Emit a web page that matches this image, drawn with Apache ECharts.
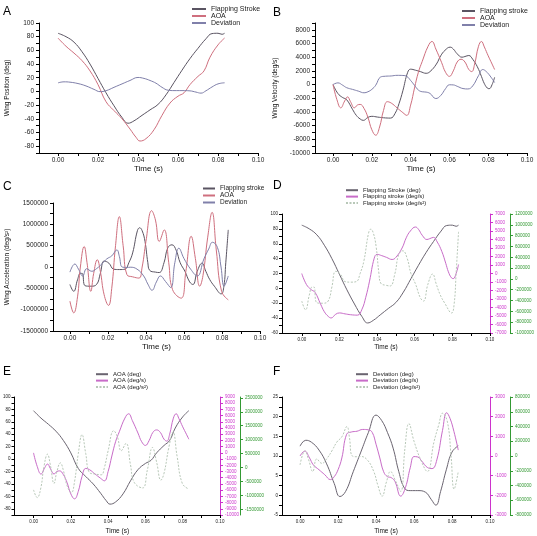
<!DOCTYPE html>
<html>
<head>
<meta charset="utf-8">
<script src="https://cdn.jsdelivr.net/npm/echarts@6/dist/echarts.min.js"></script>
<style>
  html, body { margin: 0; padding: 0; background: #fff; }
  #chart { width: 537px; height: 536px; }
</style>
</head>
<body>
<div id="chart"></div>
<script>
// ticks of the time axis (same in all six panels)
var timeLabels = [0, 0.02, 0.04, 0.06, 0.08, 0.1];
var timeTicks = [0, 0.01, 0.02, 0.03, 0.04, 0.05, 0.06, 0.07, 0.08, 0.09, 0.1];

// y ticks, panels A-C
var posLabels = [-80, -60, -40, -20, 0, 20, 40, 60, 80, 100];
var posTicks = [-90, -80, -70, -60, -50, -40, -30, -20, -10, 0, 10, 20, 30, 40, 50, 60, 70, 80, 90, 100];
var velLabels = [-10000, -8000, -6000, -4000, -2000, 0, 2000, 4000, 6000, 8000];
var velTicks = [-10000, -9000, -8000, -7000, -6000, -5000, -4000, -3000, -2000, -1000, 0, 1000, 2000, 3000, 4000, 5000, 6000, 7000, 8000, 9000];
var accLabels = [-1500000, -1000000, -500000, 0, 500000, 1000000, 1500000];
var accTicks = [-1500000, -1250000, -1000000, -750000, -500000, -250000, 0, 250000, 500000, 750000, 1000000, 1250000, 1500000];

// y ticks, panels D-F
var dLeftLabels = [-60, -40, -20, 0, 20, 40, 60, 80, 100];
var dLeftTicks = [-60, -50, -40, -30, -20, -10, 0, 10, 20, 30, 40, 50, 60, 70, 80, 90, 100];
var dVelLabels = [-7000, -6000, -5000, -4000, -3000, -2000, -1000, 0, 1000, 2000, 3000, 4000, 5000, 6000, 7000];
var dAccLabels = [-1000000, -800000, -600000, -400000, -200000, 0, 200000, 400000, 600000, 800000, 1000000, 1200000];
var eVelLabels = [-10000, -9000, -8000, -7000, -6000, -5000, -4000, -3000, -2000, -1000, 0, 1000, 2000, 3000, 4000, 5000, 6000, 7000, 8000, 9000];
var eAccLabels = [-1500000, -1000000, -500000, 0, 500000, 1000000, 1500000, 2000000, 2500000];
var fLeftLabels = [-5, 0, 5, 10, 15, 20, 25];
var fLeftTicks = [-5, -2.5, 0, 2.5, 5, 7.5, 10, 12.5, 15, 17.5, 20, 22.5, 25];
var fVelLabels = [-3000, -2000, -1000, 0, 1000, 2000, 3000];
var fAccLabels = [-800000, -600000, -400000, -200000, 0, 200000, 400000, 600000, 800000];

// wing position (deg), [time s, value]
var strokePos = [[0,85],[0.004,80],[0.008,72],[0.012,58],[0.016,40],[0.020,19],[0.024,-2],[0.028,-21],[0.032,-38],[0.035,-46.5],[0.038,-43],[0.042,-35],[0.046,-27],[0.050,-19],[0.054,-5],[0.058,13],[0.062,31],[0.066,48],[0.070,63],[0.074,77],[0.077,84.5],[0.080,85],[0.082,83.5],[0.0833,85]];
var aoaPos = [[0,78],[0.004,66],[0.008,56],[0.012,45],[0.016,30],[0.020,10],[0.024,-15],[0.028,-28],[0.032,-40],[0.036,-55],[0.039,-67],[0.041,-72.5],[0.044,-69],[0.048,-56],[0.052,-35],[0.056,-17],[0.060,-7],[0.063,-2],[0.066,10],[0.070,22],[0.073,30],[0.076,50],[0.080,68],[0.0833,78]];
var devPos = [[0,12.5],[0.003,14],[0.006,13.5],[0.010,11.5],[0.014,8],[0.018,3],[0.021,-0.3],[0.024,1],[0.028,6],[0.032,11],[0.036,16],[0.040,20.4],[0.043,19],[0.046,16],[0.049,12],[0.052,6],[0.055,1.8],[0.058,1.2],[0.062,1.2],[0.066,0.8],[0.069,-1],[0.0715,-2.5],[0.074,1],[0.077,6.5],[0.080,11],[0.0833,12.6]];

// wing velocity (deg/s)
var strokeVel = [[0,0],[0.0025,-1300],[0.005,-1900],[0.007,-2200],[0.010,-3600],[0.012,-4500],[0.014,-5030],[0.0156,-5230],[0.018,-4800],[0.020,-4640],[0.023,-4750],[0.026,-4850],[0.0296,-4900],[0.032,-4200],[0.034,-2800],[0.036,-900],[0.0385,1800],[0.040,2250],[0.0425,2100],[0.045,1900],[0.048,1650],[0.050,1900],[0.0533,3000],[0.0555,4200],[0.0577,5000],[0.0604,5470],[0.062,5200],[0.064,4500],[0.0665,4000],[0.068,4100],[0.070,4250],[0.072,3700],[0.0744,2600],[0.0765,1200],[0.0779,200],[0.0795,-500],[0.0805,-600],[0.082,0],[0.0833,1060]];
var aoaVel = [[0,0],[0.002,-2200],[0.004,-3400],[0.006,-2400],[0.0075,-1800],[0.009,-2500],[0.011,-3400],[0.0125,-3000],[0.014,-2900],[0.016,-3500],[0.018,-4800],[0.020,-6600],[0.022,-7400],[0.024,-6200],[0.026,-3800],[0.028,-2500],[0.030,-2700],[0.033,-3400],[0.036,-4100],[0.038,-4500],[0.040,-3000],[0.042,-500],[0.044,1800],[0.046,3400],[0.049,5600],[0.051,6300],[0.053,5200],[0.056,3200],[0.058,1800],[0.060,1200],[0.062,2000],[0.064,3300],[0.066,3700],[0.068,3300],[0.070,2200],[0.0715,1900],[0.073,3000],[0.075,5600],[0.0765,6300],[0.078,5500],[0.080,4200],[0.082,3000],[0.0833,2200]];
var devVel = [[0,0],[0.0025,250],[0.005,-100],[0.007,-450],[0.010,-700],[0.013,-950],[0.016,-1200],[0.018,-1050],[0.020,-700],[0.022,-100],[0.0245,1100],[0.027,1220],[0.030,1260],[0.033,1350],[0.036,1330],[0.038,1200],[0.040,600],[0.042,-100],[0.044,-800],[0.046,-1050],[0.048,-1100],[0.050,-1300],[0.053,-2040],[0.0555,-1600],[0.058,-600],[0.060,-30],[0.062,-50],[0.064,-250],[0.067,-580],[0.0695,-640],[0.072,-200],[0.075,1300],[0.0772,2200],[0.079,1900],[0.081,1250],[0.0833,300]];

// wing acceleration (deg/s^2)
var strokeAcc = [[0,-410000],[0.002,-570000],[0.004,-300000],[0.0055,-150000],[0.0065,-150000],[0.008,-440000],[0.011,-450000],[0.014,-410000],[0.016,-150000],[0.018,140000],[0.0205,90000],[0.023,-50000],[0.026,-60000],[0.029,-50000],[0.031,100000],[0.033,330000],[0.0355,850000],[0.0367,920000],[0.038,850000],[0.0395,600000],[0.041,100000],[0.042,-80000],[0.045,-120000],[0.047,-130000],[0.0495,100000],[0.0515,450000],[0.0537,520000],[0.056,380000],[0.058,100000],[0.0605,-100000],[0.063,-350000],[0.0647,-410000],[0.067,-100000],[0.0695,90000],[0.0715,-100000],[0.0735,-290000],[0.076,-450000],[0.0796,-630000],[0.081,-450000],[0.082,100000],[0.0833,870000]];
var aoaAcc = [[0,-800000],[0.002,-1075000],[0.004,-700000],[0.0055,0],[0.0075,480000],[0.009,100000],[0.011,-570000],[0.0125,-150000],[0.0144,170000],[0.016,-100000],[0.018,-650000],[0.0203,-900000],[0.022,-500000],[0.024,500000],[0.026,1180000],[0.028,500000],[0.030,-180000],[0.033,-230000],[0.0363,-260000],[0.038,0],[0.040,600000],[0.043,1320000],[0.045,1100000],[0.047,600000],[0.0496,870000],[0.052,100000],[0.054,-530000],[0.0585,-730000],[0.061,-100000],[0.0638,720000],[0.066,200000],[0.0683,-450000],[0.070,-200000],[0.0725,700000],[0.0748,1280000],[0.077,400000],[0.0798,-570000],[0.0833,-770000]];
var devAcc = [[0,-120000],[0.0026,70000],[0.0045,-50000],[0.0067,-210000],[0.0088,-40000],[0.0115,-100000],[0.0141,-35000],[0.017,80000],[0.0194,190000],[0.022,260000],[0.0247,400000],[0.026,250000],[0.0275,0],[0.030,-10000],[0.0317,-5000],[0.0353,-50000],[0.0388,-210000],[0.041,-400000],[0.0432,-545000],[0.0455,-350000],[0.0476,-210000],[0.0503,-340000],[0.053,-480000],[0.0552,100000],[0.0573,440000],[0.060,200000],[0.0635,-50000],[0.067,-210000],[0.0705,190000],[0.073,420000],[0.075,580000],[0.0776,460000],[0.0795,0],[0.0811,-450000],[0.0833,-210000]];

var FONT = "Liberation Sans";
var C_STROKE = "#5a5462", C_AOA = "#cf6f7e", C_DEV = "#8080aa";
var C_DEG = "#6a6470", C_VEL = "#c86cc8", C_ACC = "#b8c8b8";
var C_MAG = "#cc33cc", C_GRN = "#339933";

var chart = echarts.init(document.getElementById("chart"), null, { renderer: "canvas" });

function num(v) { return String(v); }

function timeAxis(grid, min, fs, nameFs, nameGap) {
    return {
        type: "value", gridIndex: grid, min: min, max: 0.1,
        name: "Time (s)", nameLocation: "middle", nameGap: nameGap,
        nameTextStyle: { fontFamily: FONT, fontSize: nameFs, color: "#111" },
        axisLine: { show: true, onZero: false, lineStyle: { color: "#000", width: 1 } },
        axisTick: { show: true, customValues: timeTicks, length: 3, lineStyle: { color: "#000" } },
        axisLabel: { customValues: timeLabels, formatter: function (v) { return v.toFixed(2); },
                     fontFamily: FONT, fontSize: fs, color: "#222", margin: 4 },
        splitLine: { show: false }
    };
}

function valAxis(grid, min, max, labels, ticks, opt) {
    opt = opt || {};
    var col = opt.color || "#000";
    var a = {
        type: "value", gridIndex: grid, min: min, max: max,
        position: opt.position || "left", offset: opt.offset || 0,
        axisLine: { show: true, onZero: false, lineStyle: { color: col, width: 1 } },
        axisTick: { show: true, customValues: ticks, length: 3, lineStyle: { color: col } },
        axisLabel: { customValues: labels, formatter: num, fontFamily: FONT,
                     fontSize: opt.fs || 6.5, color: opt.labelColor || "#222", margin: opt.margin || 5 },
        splitLine: { show: false }
    };
    if (opt.name) {
        a.name = opt.name;
        a.nameLocation = "middle";
        a.nameGap = opt.nameGap;
        a.nameTextStyle = { fontFamily: FONT, fontSize: 6.5, color: "#111" };
    }
    return a;
}

function line(name, data, xi, yi, color, dashed) {
    return {
        type: "line", name: name, data: data, xAxisIndex: xi, yAxisIndex: yi,
        symbol: "none", smooth: 0.45, animation: false,
        lineStyle: { color: color, width: 1, type: dashed ? [2, 1.5] : "solid" },
        itemStyle: { color: color }
    };
}

// legend rows: just a line sample, the symbol is hidden
function legendAt(left, top, items, w, h, fs) {
    return {
        left: left, top: top, orient: "vertical", data: items, padding: 0,
        itemWidth: w, itemHeight: h, itemGap: 0, selectedMode: false,
        itemStyle: { opacity: 0 },
        textStyle: { fontFamily: FONT, fontSize: fs, color: "#222" }
    };
}

function letter(t, x, y) {
    return { text: t, left: x, top: y, padding: 0,
             textStyle: { fontFamily: FONT, fontSize: 12, fontWeight: "normal", color: "#000" } };
}

var SD = "Flapping Stroke (deg)", SV = "Flapping stroke (deg/s)", SA = "Flapping stroke (deg/s\u00b2)";
var AD = "AOA (deg)", AV = "AOA (deg/s)", AA = "AOA (deg/s\u00b2)";
var DD = "Deviation (deg)", DV = "Deviation (deg/s)", DA = "Deviation (deg/s\u00b2)";

var option = {
    backgroundColor: "#fff",
    animation: false,
    title: [letter("A", 3, 6), letter("B", 273, 7), letter("C", 3, 181), letter("D", 273, 180),
            letter("E", 3, 366), letter("F", 273, 366)],
    legend: [
        legendAt(191, 5.5, ["Flapping Stroke", "AOA", "Deviation"], 14, 7, 7),
        legendAt(461, 7.5, ["Flapping stroke", "AOA", "Deviation"], 13, 6.5, 7),
        legendAt(202, 185, ["Flapping stroke", "AOA", "Deviation"], 12, 6.5, 6.5),
        legendAt(345, 187, [SD, SV, SA], 12, 8, 6),
        legendAt(95, 371, [AD, AV, AA], 12, 8, 6),
        legendAt(355, 371, [DD, DV, DA], 12, 8, 6)
    ],
    grid: [
        { left: 39, top: 23, width: 219, height: 130 },
        { left: 315, top: 23, width: 212, height: 130 },
        { left: 53, top: 203, width: 207, height: 128 },
        { left: 282, top: 214, width: 210, height: 119 },
        { left: 13, top: 397, width: 207, height: 119 },
        { left: 282, top: 397, width: 208, height: 119 }
    ],
    xAxis: [
        timeAxis(0, -0.0095, 6.5, 8, 10),
        timeAxis(1, -0.0093, 6.5, 8, 10),
        timeAxis(2, -0.0089, 6.5, 8, 10),
        timeAxis(3, -0.0105, 4.5, 6.5, 11),
        timeAxis(4, -0.0102, 4.5, 6.5, 13),
        timeAxis(5, -0.0095, 4.5, 6.5, 13)
    ],
    yAxis: [
        valAxis(0, -90, 100, posLabels, posTicks, { name: "Wing Position (deg)", nameGap: 28 }),
        valAxis(1, -10000, 9000, velLabels, velTicks, { name: "Wing Velocity (deg/s)", nameGap: 36 }),
        valAxis(2, -1500000, 1500000, accLabels, accTicks, { name: "Wing Acceleration (deg/s\u00b2)", nameGap: 42 }),
        valAxis(3, -60, 100, dLeftLabels, dLeftTicks, { fs: 4.5, margin: 4 }),
        valAxis(3, -7000, 7000, dVelLabels, dVelLabels, { position: "right", color: C_MAG, labelColor: C_MAG, fs: 4.5, margin: 5 }),
        valAxis(3, -1000000, 1200000, dAccLabels, dAccLabels, { position: "right", offset: 20, color: C_GRN, labelColor: C_GRN, fs: 4.5, margin: 5 }),
        valAxis(4, -90, 100, posLabels, posTicks, { fs: 4.5, margin: 4 }),
        valAxis(4, -10000, 9000, eVelLabels, eVelLabels, { position: "right", color: C_MAG, labelColor: C_MAG, fs: 4.5, margin: 5 }),
        valAxis(4, -1700000, 2530000, eAccLabels, eAccLabels, { position: "right", offset: 20, color: C_GRN, labelColor: C_GRN, fs: 4.5, margin: 5 }),
        valAxis(5, -5, 25, fLeftLabels, fLeftTicks, { fs: 4.5, margin: 4 }),
        valAxis(5, -3000, 3000, fVelLabels, fVelLabels, { position: "right", color: C_MAG, labelColor: C_MAG, fs: 4.5, margin: 5 }),
        valAxis(5, -800000, 800000, fAccLabels, fAccLabels, { position: "right", offset: 20, color: C_GRN, labelColor: C_GRN, fs: 4.5, margin: 5 })
    ],
    series: [
        line("Flapping Stroke", strokePos, 0, 0, C_STROKE),
        line("AOA", aoaPos, 0, 0, C_AOA),
        line("Deviation", devPos, 0, 0, C_DEV),

        line("Flapping stroke", strokeVel, 1, 1, C_STROKE),
        line("AOA", aoaVel, 1, 1, C_AOA),
        line("Deviation", devVel, 1, 1, C_DEV),

        line("Flapping stroke", strokeAcc, 2, 2, C_STROKE),
        line("AOA", aoaAcc, 2, 2, C_AOA),
        line("Deviation", devAcc, 2, 2, C_DEV),

        line(SD, strokePos, 3, 3, C_DEG),
        line(SV, strokeVel, 3, 4, C_VEL),
        line(SA, strokeAcc, 3, 5, C_ACC, true),

        line(AD, aoaPos, 4, 6, C_DEG),
        line(AV, aoaVel, 4, 7, C_VEL),
        line(AA, aoaAcc, 4, 8, C_ACC, true),

        line(DD, devPos, 5, 9, C_DEG),
        line(DV, devVel, 5, 10, C_VEL),
        line(DA, devAcc, 5, 11, C_ACC, true)
    ]
};

chart.setOption(option);
</script>
</body>
</html>
